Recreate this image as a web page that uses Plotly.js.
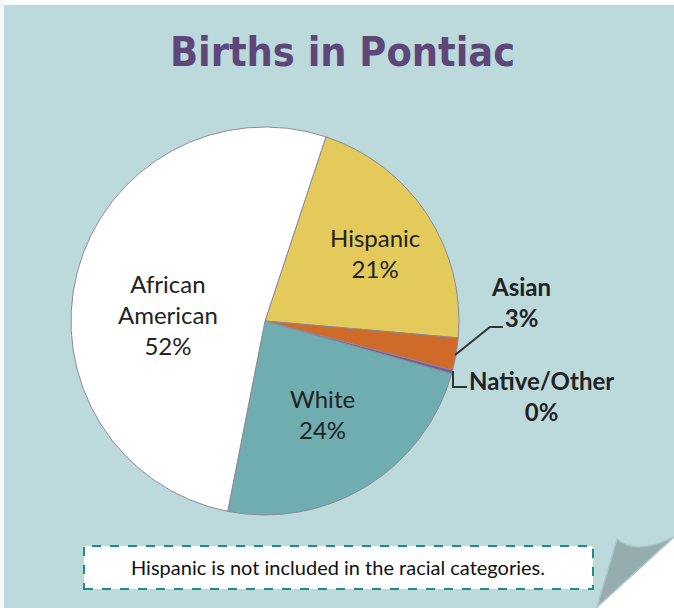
<!DOCTYPE html>
<html>
<head>
<meta charset="utf-8">
<script src="https://cdn.plot.ly/plotly-3.0.1.min.js"></script>
<style>html,body{margin:0;padding:0;background:#fff;}#chart{width:674px;height:608px;}</style>
</head>
<body>
<div id="chart"></div>
<script>
// ---- data ----
const categories = ['Hispanic', 'Asian', 'Native/Other', 'White', 'African American'];
const displayLabels = ['Hispanic', 'Asian', 'Native/Other', 'White', 'African<br>American'];
const percents = [21.3, 2.7, 0.3, 23.7, 52.0];
const sliceColors = ['#E3CA5B', '#CF6A28', '#7A5C99', '#6FADB0', '#FFFFFF'];
const titleText = 'Births in Pontiac';
const noteText = 'Hispanic is not included in the racial categories.';

// ---- layout helpers (pixel -> paper) ----
const W = 674, H = 608;
const px = x => x / W;
const py = y => 1 - y / H;

// label placement (pixels) and style per slice
const labelPos = [[375, 253], [521, 302], [541, 396], [322, 414], [168, 314]];
const labelBold = [false, true, true, false, false];

const annotations = categories.map((c, i) => ({
  xref: 'paper', yref: 'paper',
  x: px(labelPos[i][0]), y: py(labelPos[i][1]),
  xanchor: 'center', yanchor: 'middle',
  showarrow: false,
  text: (labelBold[i] ? '<b>' : '') + displayLabels[i] + '<br>' + Math.round(percents[i]) + '%' + (labelBold[i] ? '</b>' : ''),
  font: {family: 'Lato, "Open Sans", sans-serif', size: 24, color: '#222'},
  align: 'center'
}));

annotations.push({
  xref: 'paper', yref: 'paper',
  x: px(338), y: py(567),
  xanchor: 'center', yanchor: 'middle', showarrow: false,
  text: noteText,
  font: {family: 'Lato, "Open Sans", sans-serif', size: 20, color: '#111'}
});

annotations.push({
  xref: 'paper', yref: 'paper',
  x: px(342), y: py(52),
  xanchor: 'center', yanchor: 'middle', showarrow: false,
  text: '<b>' + titleText + '</b>',
  font: {family: '"DejaVu Sans Condensed", "Liberation Sans", sans-serif', size: 41, color: '#5E4679'}
});

const shapes = [
  // top white strip and left strip
  {type: 'rect', xref: 'paper', yref: 'paper', x0: 0, x1: 1, y0: py(5), y1: 1, fillcolor: '#FFFFFF', line: {width: 0}},
  {type: 'rect', xref: 'paper', yref: 'paper', x0: 0, x1: px(4), y0: 0, y1: 1, fillcolor: '#F3F8F8', line: {width: 0}},
  // page curl: white corner
  {type: 'path', xref: 'paper', yref: 'paper',
   path: 'M' + px(597) + ',' + py(608) + ' L' + px(674) + ',' + py(537) + ' L' + px(674) + ',' + py(608) + ' Z',
   fillcolor: '#FFFFFF', line: {width: 0}},
  // page curl: folded flap
  {type: 'path', xref: 'paper', yref: 'paper',
   path: 'M' + px(597) + ',' + py(607) + ' L' + px(617) + ',' + py(539) +
         ' Q' + px(636) + ',' + py(556) + ' ' + px(674) + ',' + py(537) + ' Z',
   fillcolor: '#95ADAE', line: {color: '#A9C6C8', width: 1.5}},
  // note box
  {type: 'rect', xref: 'paper', yref: 'paper', x0: px(84), x1: px(593), y0: py(589), y1: py(546),
   fillcolor: '#FFFFFF', line: {color: '#1E8C8A', width: 2, dash: 'dash'}},
  // leader lines
  {type: 'path', xref: 'paper', yref: 'paper',
   path: 'M' + px(455) + ',' + py(355) + ' L' + px(490) + ',' + py(327) + ' L' + px(503) + ',' + py(327),
   line: {color: '#333', width: 2}},
  {type: 'path', xref: 'paper', yref: 'paper',
   path: 'M' + px(453) + ',' + py(371) + ' L' + px(453) + ',' + py(387) + ' L' + px(467) + ',' + py(387),
   line: {color: '#333', width: 2}}
];

const trace = {
  type: 'pie',
  labels: categories,
  values: percents,
  sort: false,
  direction: 'clockwise',
  rotation: 18.3,
  textinfo: 'none',
  hoverinfo: 'label+percent',
  marker: {colors: sliceColors, line: {color: '#8C8A9A', width: 1}},
  domain: {x: [px(71), px(459)], y: [py(515), py(127)]},
  showlegend: false
};

const layout = {
  width: W, height: H,
  margin: {l: 0, r: 0, t: 0, b: 0},
  paper_bgcolor: '#BCD9DC',
  plot_bgcolor: 'rgba(0,0,0,0)',
  showlegend: false,
  shapes: shapes,
  annotations: annotations
};

Plotly.newPlot('chart', [trace], layout, {displayModeBar: false, staticPlot: true});
</script>
</body>
</html>
